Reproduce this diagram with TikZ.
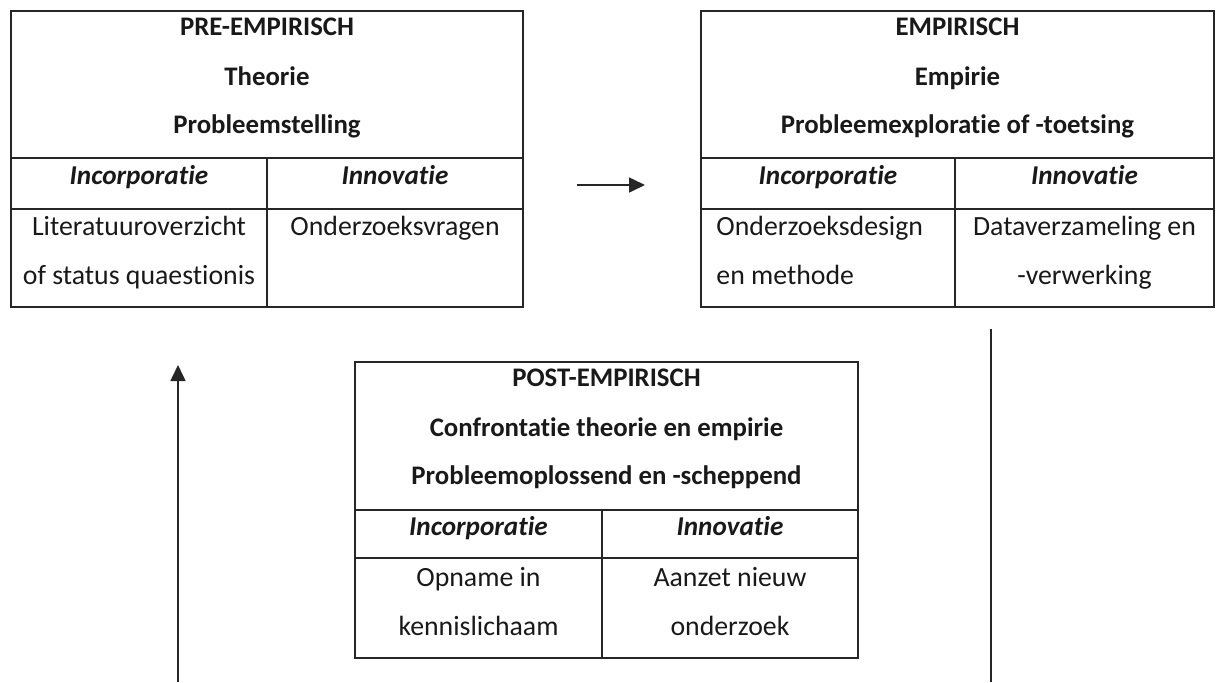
\documentclass[tikz,border=0pt]{standalone}
\usepackage{fontspec}
\setmainfont{Carlito}[RawFeature={-liga;-clig;-calt;-dlig}]
\usetikzlibrary{arrows.meta}
\tikzset{
  txt/.style={anchor=base, inner sep=0pt, text=black!90, font=\fontsize{13.9}{16}\selectfont},
  hd/.style={txt, font=\fontsize{13.4}{16}\selectfont\bfseries},
  subhd/.style={txt, font=\fontsize{13.6}{16}\selectfont\bfseries\itshape},
  rule/.style={line width=1pt, draw=black!85},
  flow/.style={line width=0.8pt, draw=black!85, -{Triangle[length=8pt,width=7.5pt]}},
}
\begin{document}
\begin{tikzpicture}[x=0.5pt, y=-0.5pt]
  \useasboundingbox (0,0) rectangle (1216,682);
  % pre-empirisch
  \draw[rule] (11,11) rectangle (523,307);
  \draw[rule] (11,158) -- (523,158) (11,209) -- (523,209) (267,158) -- (267,307);
  \node[hd] (pre-a) at (267,35) {PRE-EMPIRISCH};
  \node[hd] (pre-b) at (267,85) {Theorie};
  \node[hd] (pre-c) at (267,133) {Probleemstelling};
  \node[subhd] (pre-inc) at (139,184) {Incorporatie};
  \node[subhd] (pre-inn) at (395,184) {Innovatie};
  \node[txt] (pre-l1) at (139,235) {Literatuuroverzicht};
  \node[txt] (pre-l2) at (139,284) {of status quaestionis};
  \node[txt] (pre-r1) at (395,235) {Onderzoeksvragen};
  % empirisch
  \draw[rule] (701,11) rectangle (1214,307);
  \draw[rule] (701,158) -- (1214,158) (701,209) -- (1214,209) (955,158) -- (955,307);
  \node[hd] (emp-a) at (957.5,35) {EMPIRISCH};
  \node[hd] (emp-b) at (957.5,85) {Empirie};
  \node[hd] (emp-c) at (957.5,133) {Probleemexploratie of -toetsing};
  \node[subhd] (emp-inc) at (828,184) {Incorporatie};
  \node[subhd] (emp-inn) at (1084.5,184) {Innovatie};
  \node[txt, anchor=base west] (emp-l1) at (716,235) {Onderzoeksdesign};
  \node[txt, anchor=base west] (emp-l2) at (716,284) {en methode};
  \node[txt] (emp-r1) at (1084.5,235) {Dataverzameling en};
  \node[txt] (emp-r2) at (1084.5,284) {-verwerking};
  % post-empirisch
  \draw[rule] (355,362) rectangle (858,658);
  \draw[rule] (355,510) -- (858,510) (355,558) -- (858,558) (602,510) -- (602,658);
  \node[hd] (post-a) at (606.5,386) {POST-EMPIRISCH};
  \node[hd] (post-b) at (606.5,436) {Confrontatie theorie en empirie};
  \node[hd] (post-c) at (606.5,484) {Probleemoplossend en -scheppend};
  \node[subhd] (post-inc) at (478.5,535) {Incorporatie};
  \node[subhd] (post-inn) at (730,535) {Innovatie};
  \node[txt] (post-l1) at (478.5,586) {Opname in};
  \node[txt] (post-l2) at (478.5,635) {kennislichaam};
  \node[txt] (post-r1) at (730,586) {Aanzet nieuw};
  \node[txt] (post-r2) at (730,635) {onderzoek};
  % pijlen
  \coordinate (h-from) at (577,185);
  \coordinate (h-to) at (645,185);
  \coordinate (l-from) at (178,682);
  \coordinate (l-to) at (178,365);
  \coordinate (r-top) at (991,329);
  \coordinate (r-bot) at (991,682);
  \draw[flow] (h-from) -- (h-to);
  \draw[flow] (l-from) -- (l-to);
  \draw[rule, line width=0.8pt] (r-top) -- (r-bot);
\end{tikzpicture}
\end{document}
